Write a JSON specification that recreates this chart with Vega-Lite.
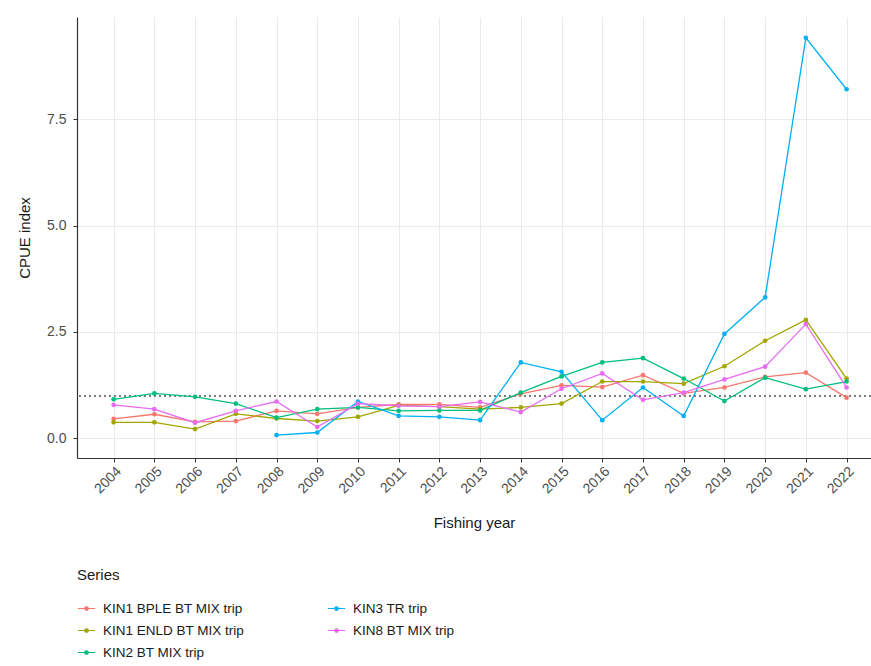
{
  "$schema": "https://vega.github.io/schema/vega-lite/v6.json",
  "width": 794,
  "height": 441,
  "autosize": {"type": "none"},
  "padding": {"left": 77, "top": 17, "right": 0, "bottom": 208},
  "background": "white",
  "config": {
    "font": "Liberation Sans",
    "view": {"stroke": null},
    "axis": {
      "domainColor": "#333333",
      "domainWidth": 1.2,
      "ticks": true,
      "tickColor": "#333333",
      "tickSize": 4,
      "tickWidth": 1,
      "labelColor": "#4D4D4D",
      "labelFontSize": 13,
      "titleFontSize": 15,
      "titleFontWeight": "normal",
      "titleColor": "#1A1A1A",
      "gridColor": "#EBEBEB",
      "gridWidth": 1
    },
    "legend": {
      "orient": "none",
      "legendX": 0,
      "legendY": 551,
      "columns": 2,
      "columnPadding": 80,
      "rowPadding": 6,
      "titleFontSize": 15,
      "titleFontWeight": "normal",
      "titleColor": "#1A1A1A",
      "titlePadding": 16,
      "labelFontSize": 13.5,
      "labelColor": "#1A1A1A",
      "labelOffset": 7,
      "symbolType": "M-1,0L1,0M-0.2,0A0.2,0.2 0 1,1 0.2,0A0.2,0.2 0 1,1 -0.2,0",
      "symbolSize": 300,
      "symbolStrokeWidth": 1.2
    }
  },
  "data": {
    "values": [
      {"series": "KIN1 BPLE BT MIX trip", "year": 2004, "cpue": 0.45},
      {"series": "KIN1 BPLE BT MIX trip", "year": 2005, "cpue": 0.56},
      {"series": "KIN1 BPLE BT MIX trip", "year": 2006, "cpue": 0.38},
      {"series": "KIN1 BPLE BT MIX trip", "year": 2007, "cpue": 0.40},
      {"series": "KIN1 BPLE BT MIX trip", "year": 2008, "cpue": 0.64},
      {"series": "KIN1 BPLE BT MIX trip", "year": 2009, "cpue": 0.57},
      {"series": "KIN1 BPLE BT MIX trip", "year": 2010, "cpue": 0.72},
      {"series": "KIN1 BPLE BT MIX trip", "year": 2011, "cpue": 0.79},
      {"series": "KIN1 BPLE BT MIX trip", "year": 2012, "cpue": 0.79},
      {"series": "KIN1 BPLE BT MIX trip", "year": 2013, "cpue": 0.72},
      {"series": "KIN1 BPLE BT MIX trip", "year": 2014, "cpue": 1.04},
      {"series": "KIN1 BPLE BT MIX trip", "year": 2015, "cpue": 1.24},
      {"series": "KIN1 BPLE BT MIX trip", "year": 2016, "cpue": 1.20},
      {"series": "KIN1 BPLE BT MIX trip", "year": 2017, "cpue": 1.48},
      {"series": "KIN1 BPLE BT MIX trip", "year": 2018, "cpue": 1.05},
      {"series": "KIN1 BPLE BT MIX trip", "year": 2019, "cpue": 1.19},
      {"series": "KIN1 BPLE BT MIX trip", "year": 2020, "cpue": 1.44},
      {"series": "KIN1 BPLE BT MIX trip", "year": 2021, "cpue": 1.54},
      {"series": "KIN1 BPLE BT MIX trip", "year": 2022, "cpue": 0.95},
      {"series": "KIN1 ENLD BT MIX trip", "year": 2004, "cpue": 0.37},
      {"series": "KIN1 ENLD BT MIX trip", "year": 2005, "cpue": 0.37},
      {"series": "KIN1 ENLD BT MIX trip", "year": 2006, "cpue": 0.21},
      {"series": "KIN1 ENLD BT MIX trip", "year": 2007, "cpue": 0.57},
      {"series": "KIN1 ENLD BT MIX trip", "year": 2008, "cpue": 0.46},
      {"series": "KIN1 ENLD BT MIX trip", "year": 2009, "cpue": 0.40},
      {"series": "KIN1 ENLD BT MIX trip", "year": 2010, "cpue": 0.50},
      {"series": "KIN1 ENLD BT MIX trip", "year": 2011, "cpue": 0.77},
      {"series": "KIN1 ENLD BT MIX trip", "year": 2012, "cpue": 0.74},
      {"series": "KIN1 ENLD BT MIX trip", "year": 2013, "cpue": 0.68},
      {"series": "KIN1 ENLD BT MIX trip", "year": 2014, "cpue": 0.72},
      {"series": "KIN1 ENLD BT MIX trip", "year": 2015, "cpue": 0.81},
      {"series": "KIN1 ENLD BT MIX trip", "year": 2016, "cpue": 1.33},
      {"series": "KIN1 ENLD BT MIX trip", "year": 2017, "cpue": 1.33},
      {"series": "KIN1 ENLD BT MIX trip", "year": 2018, "cpue": 1.28},
      {"series": "KIN1 ENLD BT MIX trip", "year": 2019, "cpue": 1.69},
      {"series": "KIN1 ENLD BT MIX trip", "year": 2020, "cpue": 2.29},
      {"series": "KIN1 ENLD BT MIX trip", "year": 2021, "cpue": 2.78},
      {"series": "KIN1 ENLD BT MIX trip", "year": 2022, "cpue": 1.40},
      {"series": "KIN2 BT MIX trip", "year": 2004, "cpue": 0.91},
      {"series": "KIN2 BT MIX trip", "year": 2005, "cpue": 1.05},
      {"series": "KIN2 BT MIX trip", "year": 2006, "cpue": 0.97},
      {"series": "KIN2 BT MIX trip", "year": 2007, "cpue": 0.81},
      {"series": "KIN2 BT MIX trip", "year": 2008, "cpue": 0.48},
      {"series": "KIN2 BT MIX trip", "year": 2009, "cpue": 0.68},
      {"series": "KIN2 BT MIX trip", "year": 2010, "cpue": 0.72},
      {"series": "KIN2 BT MIX trip", "year": 2011, "cpue": 0.64},
      {"series": "KIN2 BT MIX trip", "year": 2012, "cpue": 0.65},
      {"series": "KIN2 BT MIX trip", "year": 2013, "cpue": 0.65},
      {"series": "KIN2 BT MIX trip", "year": 2014, "cpue": 1.07},
      {"series": "KIN2 BT MIX trip", "year": 2015, "cpue": 1.45},
      {"series": "KIN2 BT MIX trip", "year": 2016, "cpue": 1.78},
      {"series": "KIN2 BT MIX trip", "year": 2017, "cpue": 1.88},
      {"series": "KIN2 BT MIX trip", "year": 2018, "cpue": 1.40},
      {"series": "KIN2 BT MIX trip", "year": 2019, "cpue": 0.87},
      {"series": "KIN2 BT MIX trip", "year": 2020, "cpue": 1.42},
      {"series": "KIN2 BT MIX trip", "year": 2021, "cpue": 1.15},
      {"series": "KIN2 BT MIX trip", "year": 2022, "cpue": 1.33},
      {"series": "KIN3 TR trip", "year": 2008, "cpue": 0.07},
      {"series": "KIN3 TR trip", "year": 2009, "cpue": 0.13},
      {"series": "KIN3 TR trip", "year": 2010, "cpue": 0.86},
      {"series": "KIN3 TR trip", "year": 2011, "cpue": 0.52},
      {"series": "KIN3 TR trip", "year": 2012, "cpue": 0.50},
      {"series": "KIN3 TR trip", "year": 2013, "cpue": 0.42},
      {"series": "KIN3 TR trip", "year": 2014, "cpue": 1.78},
      {"series": "KIN3 TR trip", "year": 2015, "cpue": 1.56},
      {"series": "KIN3 TR trip", "year": 2016, "cpue": 0.42},
      {"series": "KIN3 TR trip", "year": 2017, "cpue": 1.19},
      {"series": "KIN3 TR trip", "year": 2018, "cpue": 0.52},
      {"series": "KIN3 TR trip", "year": 2019, "cpue": 2.45},
      {"series": "KIN3 TR trip", "year": 2020, "cpue": 3.31},
      {"series": "KIN3 TR trip", "year": 2021, "cpue": 9.42},
      {"series": "KIN3 TR trip", "year": 2022, "cpue": 8.21},
      {"series": "KIN8 BT MIX trip", "year": 2004, "cpue": 0.78},
      {"series": "KIN8 BT MIX trip", "year": 2005, "cpue": 0.68},
      {"series": "KIN8 BT MIX trip", "year": 2006, "cpue": 0.36},
      {"series": "KIN8 BT MIX trip", "year": 2007, "cpue": 0.64},
      {"series": "KIN8 BT MIX trip", "year": 2008, "cpue": 0.86},
      {"series": "KIN8 BT MIX trip", "year": 2009, "cpue": 0.26},
      {"series": "KIN8 BT MIX trip", "year": 2010, "cpue": 0.81},
      {"series": "KIN8 BT MIX trip", "year": 2011, "cpue": 0.76},
      {"series": "KIN8 BT MIX trip", "year": 2012, "cpue": 0.74},
      {"series": "KIN8 BT MIX trip", "year": 2013, "cpue": 0.85},
      {"series": "KIN8 BT MIX trip", "year": 2014, "cpue": 0.61},
      {"series": "KIN8 BT MIX trip", "year": 2015, "cpue": 1.16},
      {"series": "KIN8 BT MIX trip", "year": 2016, "cpue": 1.52},
      {"series": "KIN8 BT MIX trip", "year": 2017, "cpue": 0.90},
      {"series": "KIN8 BT MIX trip", "year": 2018, "cpue": 1.07},
      {"series": "KIN8 BT MIX trip", "year": 2019, "cpue": 1.38},
      {"series": "KIN8 BT MIX trip", "year": 2020, "cpue": 1.68},
      {"series": "KIN8 BT MIX trip", "year": 2021, "cpue": 2.68},
      {"series": "KIN8 BT MIX trip", "year": 2022, "cpue": 1.19}
    ]
  },
  "layer": [
    {
      "mark": {"type": "rule", "strokeDash": [2, 3], "stroke": "#777777", "strokeWidth": 1},
      "encoding": {"y": {"datum": 1, "type": "quantitative"}}
    },
    {
      "mark": {"type": "line", "strokeWidth": 1.3},
      "encoding": {
        "x": {"field": "year", "type": "quantitative", "scale": {"domain": [2003.1, 2022.6], "nice": false, "zero": false},
          "axis": {"values": [2004,2005,2006,2007,2008,2009,2010,2011,2012,2013,2014,2015,2016,2017,2018,2019,2020,2021,2022], "format": "d", "labelAngle": -45, "labelAlign": "right", "labelBaseline": "top", "labelPadding": 2, "labelFontSize": 14, "title": "Fishing year", "titlePadding": 20, "grid": true}},
        "y": {"field": "cpue", "type": "quantitative", "scale": {"domain": [-0.47, 9.91], "nice": false, "zero": false},
          "axis": {"values": [0, 2.5, 5, 7.5], "format": ".1f", "labelPadding": 7, "labelFontSize": 14, "title": "CPUE index", "titlePadding": 14, "grid": true}},
        "color": {"field": "series", "type": "nominal", "title": "Series",
          "scale": {"domain": ["KIN1 BPLE BT MIX trip", "KIN1 ENLD BT MIX trip", "KIN2 BT MIX trip", "KIN3 TR trip", "KIN8 BT MIX trip"],
                    "range": ["#F8766D", "#A3A500", "#00BF7D", "#00B0F6", "#E76BF3"]}}
      }
    },
    {
      "mark": {"type": "point", "filled": true, "size": 22, "opacity": 1},
      "encoding": {
        "x": {"field": "year", "type": "quantitative"},
        "y": {"field": "cpue", "type": "quantitative"},
        "color": {"field": "series", "type": "nominal", "title": "Series"}
      }
    }
  ]
}
